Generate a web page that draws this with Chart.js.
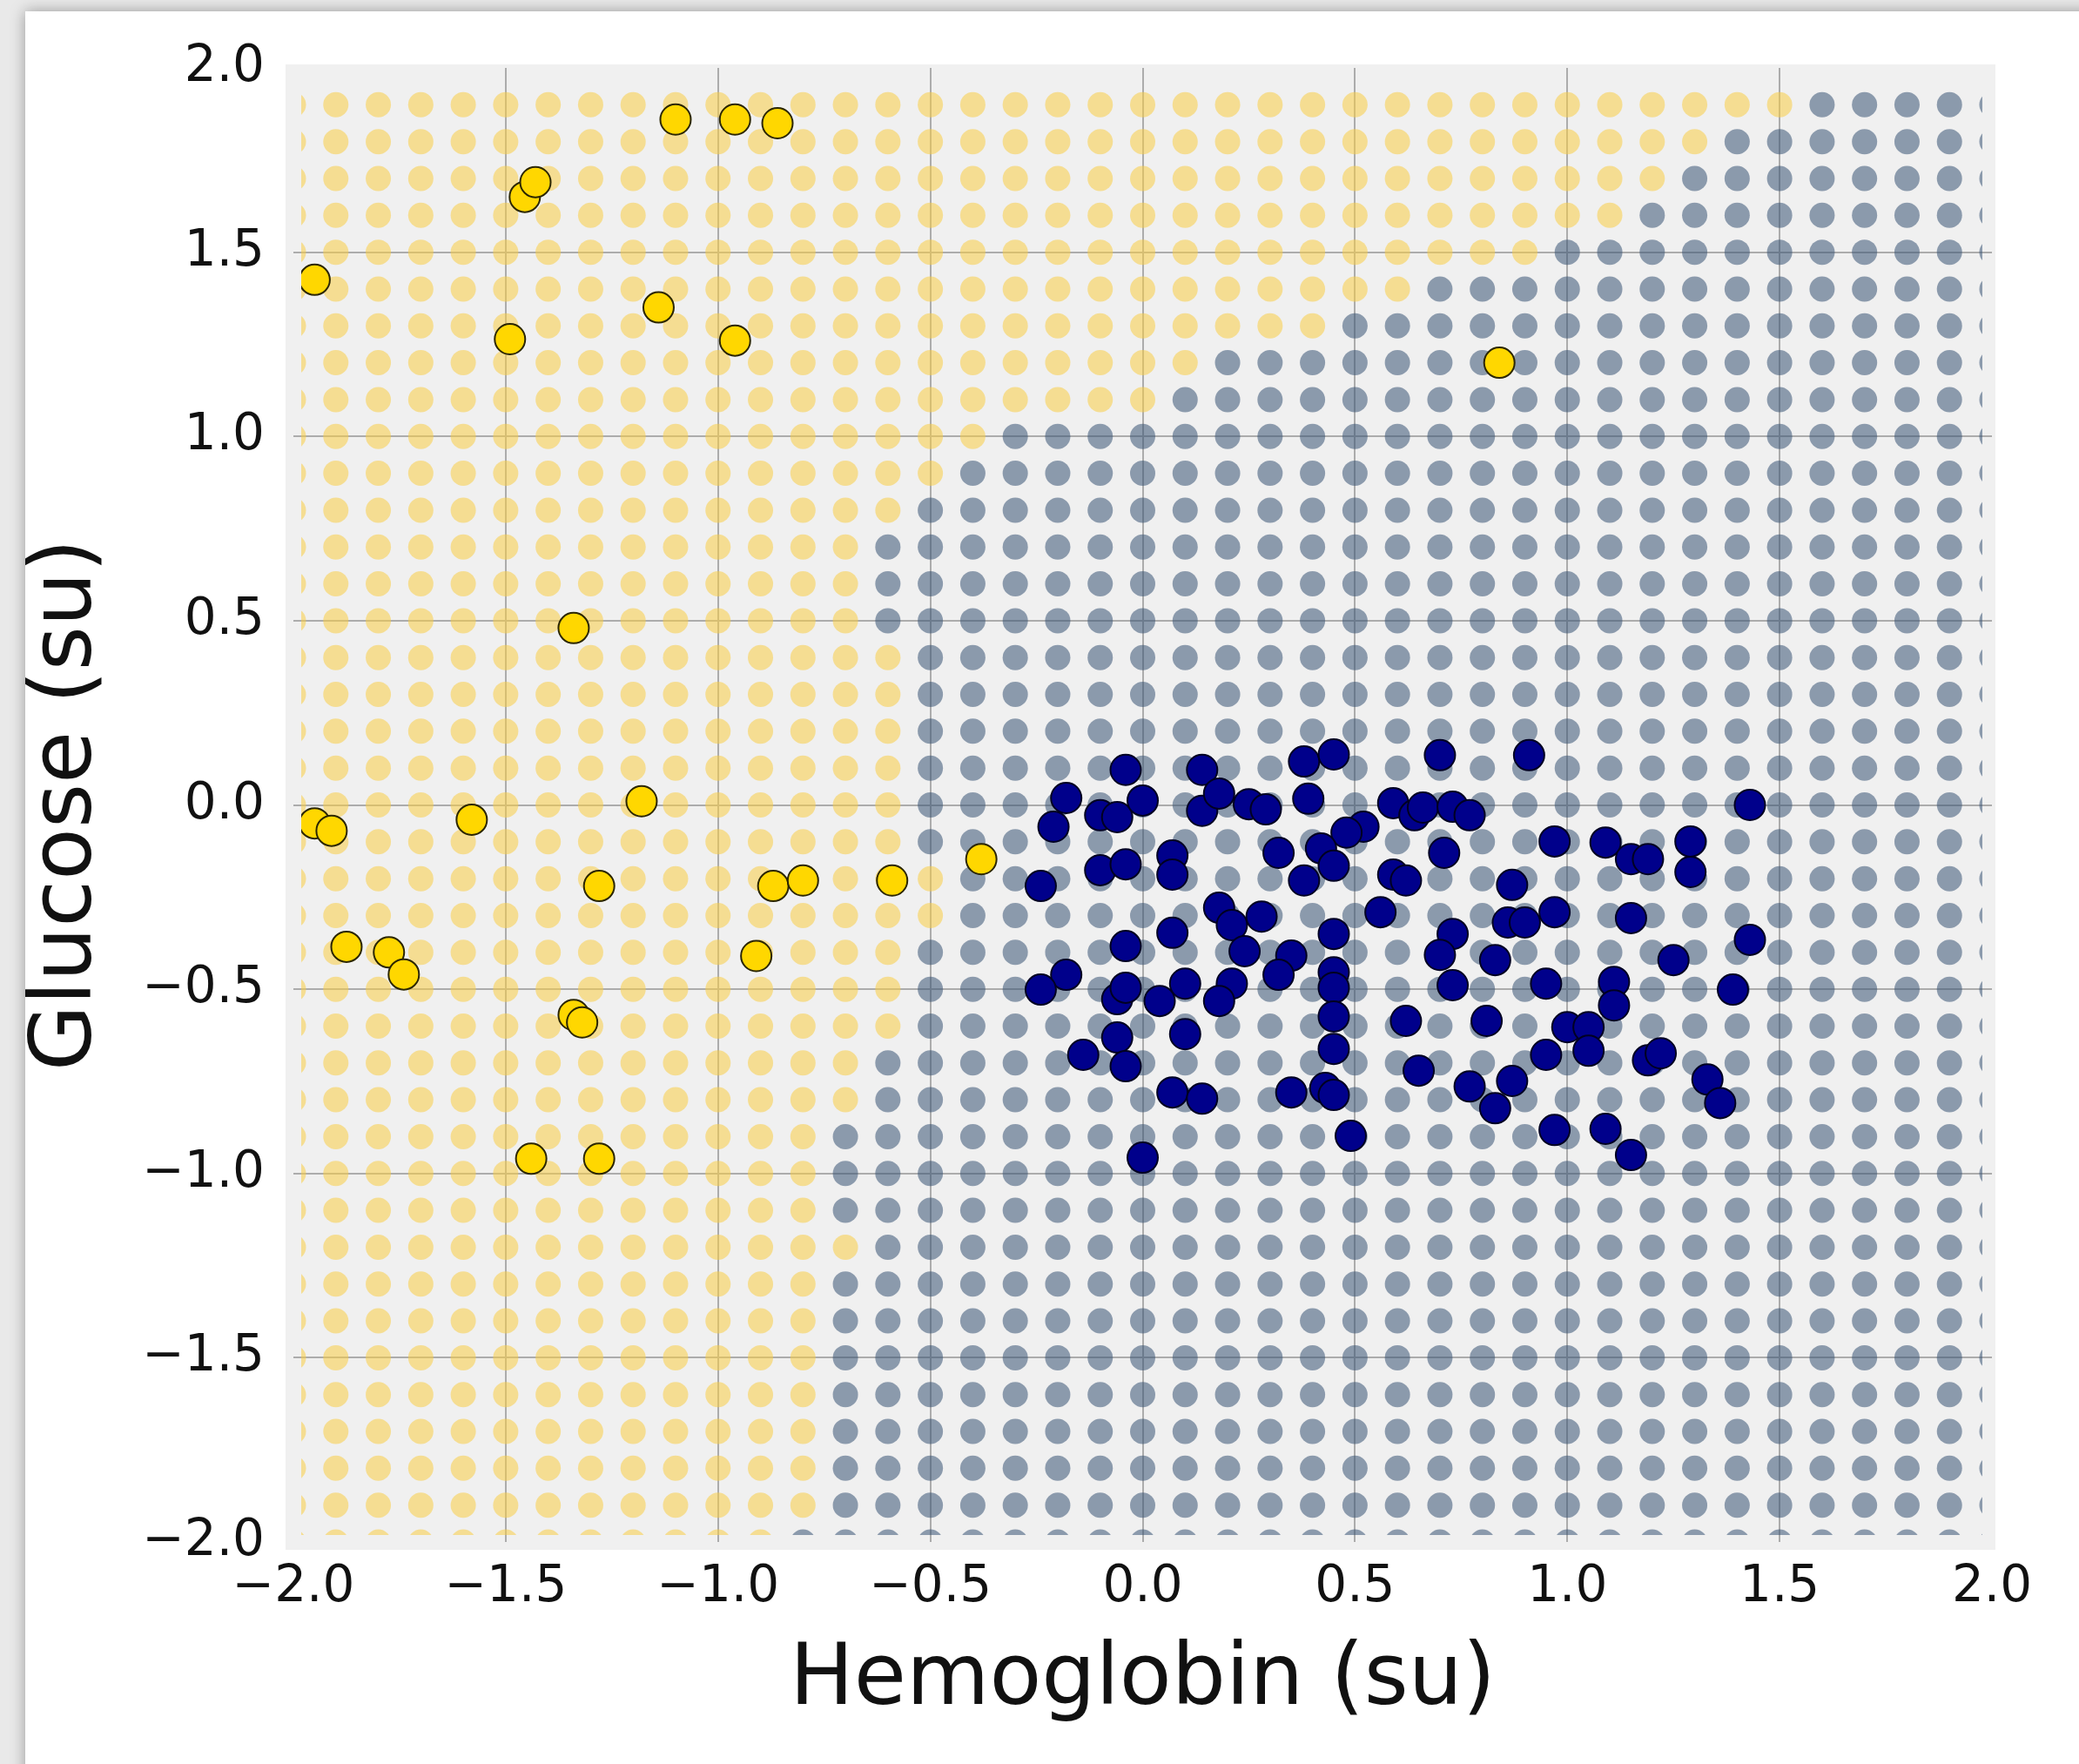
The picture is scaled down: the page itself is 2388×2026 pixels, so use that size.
<!DOCTYPE html>
<html>
<head>
<meta charset="utf-8">
<script src="https://cdn.jsdelivr.net/npm/chart.js@4.4.1/dist/chart.umd.min.js"></script>
<style>
  html, body { margin: 0; padding: 0; background: #e9e9e9; overflow: hidden; }
  #card { position: absolute; left: 29px; top: 13px; width: 2400px; height: 2040px; background: #fff; box-shadow: 0 0 16px rgba(0,0,0,0.35); }
  #chartCanvas { position: absolute; left: 0; top: 0; }
</style>
</head>
<body>
<div id="card"></div>
<canvas id="chartCanvas" width="2388" height="2026"></canvas>
<script>
// background grid of the classifier (one dot per grid cell)
const gridX = [-2.0, -1.9, -1.8, -1.7, -1.6, -1.5, -1.4, -1.3, -1.2, -1.1, -1.0, -0.9, -0.8, -0.7, -0.6, -0.5, -0.4, -0.3, -0.2, -0.1,
  0.0, 0.1, 0.2, 0.3, 0.4, 0.5, 0.6, 0.7, 0.8, 0.9, 1.0, 1.1, 1.2, 1.3, 1.4, 1.5, 1.6, 1.7, 1.8, 1.9, 2.0];
const gridY = [-2.0, -1.9, -1.8, -1.7, -1.6, -1.5, -1.4, -1.3, -1.2, -1.1, -1.0, -0.9, -0.8, -0.7, -0.6, -0.5, -0.4, -0.3, -0.2, -0.1,
  0.0, 0.1, 0.2, 0.3, 0.4, 0.5, 0.6, 0.7, 0.8, 0.9, 1.0, 1.1, 1.2, 1.3, 1.4, 1.5, 1.6, 1.7, 1.8, 1.9];
// for each row of gridY: first hemoglobin value predicted as the navy class
const navyFrom = [-0.8, -0.7, -0.7, -0.7, -0.7, -0.7, -0.7, -0.7, -0.6, -0.7, -0.7, -0.7, -0.6, -0.6, -0.5, -0.5, -0.5, -0.4, -0.4, -0.5,
  -0.5, -0.5, -0.5, -0.5, -0.5, -0.6, -0.6, -0.6, -0.5, -0.4, -0.3, 0.1, 0.2, 0.5, 0.7, 1.0, 1.2, 1.3, 1.4, 1.6];

// training points
const goldX = [-1.10, -0.96, -0.86, -1.455, -1.43, -1.95, -1.14, -1.49, -0.96, 0.84, -1.34, -1.18, -1.95, -1.91,
  -1.58, -1.28, -0.87, -0.80, -0.59, -0.38, -1.875, -1.775, -1.74, -0.91, -1.34, -1.32, -1.44, -1.28];
const goldY = [1.86, 1.86, 1.85, 1.65, 1.69, 1.425, 1.35, 1.264, 1.26, 1.20, 0.48, 0.01, -0.05, -0.07,
  -0.04, -0.22, -0.22, -0.205, -0.205, -0.147, -0.385, -0.40, -0.46, -0.41, -0.57, -0.59, -0.96, -0.96];

const navyX = [-0.04, 0.14, 0.38, 0.45, -0.18, -0.21, -0.10, -0.06, 0.00, 0.14, 0.18, 0.25, 0.29, 0.39, 0.59, 0.64,
  0.52, 0.48, 0.32, 0.42, 0.45, 0.38, 0.07, 0.07, -0.10, -0.04, -0.24, 0.59, 0.62, 0.18, 0.21, 0.28, 0.07, -0.04,
  0.24, 0.35, 0.56, 0.45,
  -0.18, -0.24, -0.06, -0.04, 0.04, 0.10, 0.21, 0.18, 0.32, 0.45, 0.45, 0.45, 0.45, 0.62, 0.65, -0.06, -0.14,
  -0.04, 0.10, 0.07, 0.14, 0.35, 0.43, 0.45, 0.49, 0.00,
  0.70, 0.91, 0.66, 0.73, 0.77, 1.43, 0.71, 0.97, 1.09, 1.15, 1.19, 1.29, 1.29, 0.87, 0.86, 0.90, 0.97, 1.15,
  0.73, 0.70, 0.83, 1.25, 1.43,
  0.73, 0.95, 1.11, 1.39, 0.81, 1.11, 1.00, 1.05, 1.05, 0.95, 0.77, 0.87, 0.83, 1.19, 1.22, 1.33, 1.36, 0.97,
  1.09, 1.15];
const navyY = [0.095, 0.095, 0.118, 0.137, 0.019, -0.059, -0.028, -0.033, 0.012, -0.016, 0.031, 0.002, -0.012, 0.017,
  0.005, -0.028, -0.059, -0.075, -0.130, -0.118, -0.165, -0.205, -0.137, -0.189, -0.177, -0.161, -0.220, -0.189,
  -0.205, -0.279, -0.326, -0.303, -0.347, -0.383, -0.397, -0.409, -0.291, -0.350,
  -0.461, -0.501, -0.527, -0.496, -0.532, -0.485, -0.485, -0.532, -0.461, -0.454, -0.496, -0.574, -0.662, -0.586,
  -0.721, -0.631, -0.678, -0.709, -0.622, -0.780, -0.797, -0.780, -0.768, -0.787, -0.898, -0.957,
  0.135, 0.135, -0.007, -0.005, -0.028, 0.000, -0.130, -0.099, -0.102, -0.147, -0.147, -0.099, -0.182, -0.217,
  -0.319, -0.319, -0.291, -0.307, -0.350, -0.407, -0.421, -0.421, -0.366,
  -0.489, -0.485, -0.480, -0.501, -0.586, -0.544, -0.603, -0.603, -0.667, -0.678, -0.764, -0.749, -0.823, -0.693,
  -0.674, -0.745, -0.809, -0.882, -0.879, -0.950];

const axisTicks = [-2.0, -1.5, -1.0, -0.5, 0.0, 0.5, 1.0, 1.5, 2.0];

const bgGold = [];
const bgNavy = [];
gridY.forEach((y, row) => {
  gridX.forEach(x => {
    if (x >= navyFrom[row] - 1e-9) bgNavy.push({x: x, y: y});
    else bgGold.push({x: x, y: y});
  });
});

const toPoints = (xs, ys) => xs.map((x, i) => ({x: x, y: ys[i]}));
const fmt = v => v.toFixed(1).replace('-', '\u2212');
const gridColor = c => (c.tick && Math.abs(c.tick.value) > 1.99) ? 'rgba(0,0,0,0)' : '#acacac';
const inner = {left: -9, right: -11, top: 0, bottom: -8};

const plotBackground = {
  id: 'plotBackground',
  beforeDraw(chart) {
    const {ctx, chartArea: a} = chart;
    ctx.save();
    ctx.fillStyle = '#f0f0f0';
    ctx.fillRect(a.left - 9, a.top - 4, a.right - a.left + 13, a.bottom - a.top + 13);
    ctx.restore();
  }
};

Chart.defaults.font.family = "'DejaVu Sans', sans-serif";

const ctx = document.getElementById('chartCanvas').getContext('2d');

new Chart(ctx, {
  type: 'scatter',
  data: {
    datasets: [
      {
        label: 'navy',
        data: toPoints(navyX, navyY),
        backgroundColor: '#00008b',
        borderColor: '#000022',
        borderWidth: 2,
        pointRadius: 17.5,
        order: 0,
        clip: inner
      },
      {
        label: 'gold',
        data: toPoints(goldX, goldY),
        backgroundColor: '#ffd700',
        borderColor: '#2b2600',
        borderWidth: 2,
        pointRadius: 17.5,
        order: 1,
        clip: inner
      },
      {
        label: 'grid navy',
        data: bgNavy,
        backgroundColor: 'rgba(56, 84, 116, 0.55)',
        borderWidth: 0,
        pointRadius: 14.5,
        order: 2,
        clip: inner
      },
      {
        label: 'grid gold',
        data: bgGold,
        backgroundColor: 'rgba(250, 205, 70, 0.55)',
        borderWidth: 0,
        pointRadius: 14.5,
        order: 3,
        clip: inner
      }
    ]
  },
  options: {
    responsive: false,
    animation: false,
    devicePixelRatio: 1,
    layout: { padding: { left: 10, top: 78, right: 100, bottom: 30 } },
    plugins: {
      legend: { display: false },
      tooltip: { enabled: false }
    },
    elements: { point: { hoverRadius: 17.5 } },
    scales: {
      x: {
        type: 'linear',
        min: -2,
        max: 2,
        afterBuildTicks: s => { s.ticks = axisTicks.map(v => ({value: v})); },
        afterFit: s => { s.height = 225; },
        ticks: { autoSkip: false, maxRotation: 0, padding: 18, color: '#111', font: { size: 58 }, callback: fmt },
        grid: { color: gridColor, lineWidth: 2, drawTicks: false },
        border: { display: false },
        title: { display: true, text: 'Hemoglobin (su)', color: '#111', font: { size: 98 }, padding: { top: 0, bottom: 6 } }
      },
      y: {
        type: 'linear',
        min: -2,
        max: 2,
        afterBuildTicks: s => { s.ticks = axisTicks.map(v => ({value: v})); },
        afterFit: s => { s.width = 327; },
        ticks: { autoSkip: false, padding: 33, color: '#111', font: { size: 58 }, callback: fmt },
        grid: { color: gridColor, lineWidth: 2, drawTicks: false },
        border: { display: false },
        title: { display: true, text: 'Glucose (su)', color: '#111', font: { size: 98 }, padding: { top: 10, bottom: 0 } }
      }
    }
  },
  plugins: [plotBackground]
});
</script>
</body>
</html>
